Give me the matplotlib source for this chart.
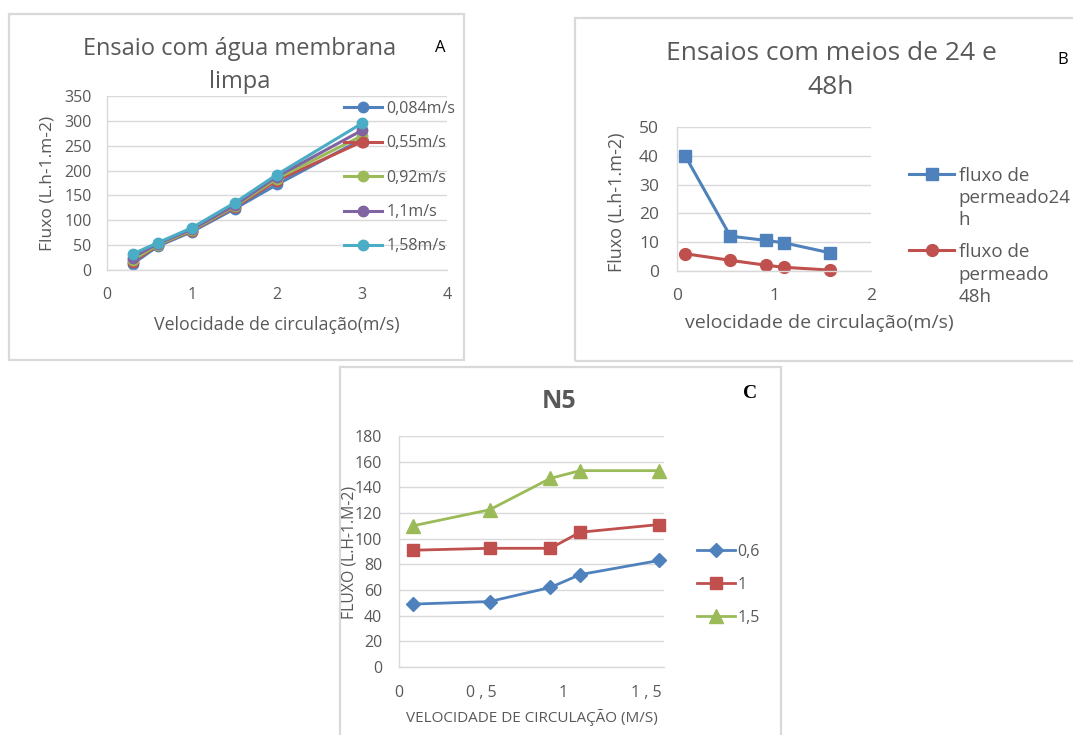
import matplotlib
matplotlib.use("Agg")
import matplotlib.pyplot as plt
from matplotlib.patches import Rectangle

W, H = 1073, 735

# ---------------- data ----------------
a_x = [0.3, 0.6, 1.0, 1.5, 2.0, 3.0]
a_labels = ["0,084m/s", "0,55m/s", "0,92m/s", "1,1m/s", "1,58m/s"]
a_084 = [12, 48, 77, 123, 172, 263]
a_055 = [16, 50, 79, 126, 180, 258]
a_092 = [20, 51, 80, 128, 184, 270]
a_110 = [25, 53, 82, 130, 188, 281]
a_158 = [32, 55, 85, 135, 192, 295]
a_xticks = [0, 1, 2, 3, 4]
a_yticks = [0, 50, 100, 150, 200, 250, 300, 350]

b_x = [0.084, 0.55, 0.92, 1.1, 1.58]
b_labels = ["fluxo de\npermeado24\nh", "fluxo de\npermeado\n48h"]
b_24 = [40, 12.1, 10.6, 9.8, 6.3]
b_48 = [6.0, 3.7, 2.0, 1.3, 0.3]
b_xticks = [0, 1, 2]
b_yticks = [0, 10, 20, 30, 40, 50]

c_x = [0.084, 0.55, 0.92, 1.1, 1.58]
c_labels = ["0,6", "1", "1,5"]
c_06 = [49, 51, 62, 72, 83]
c_10 = [91, 92.5, 92.5, 105, 111]
c_15 = [110, 122.5, 147, 153, 153]
c_xticks = [0, 0.5, 1, 1.5]
c_xticklabels = ["0", "0 , 5", "1", "1 , 5"]
c_yticks = [0, 20, 40, 60, 80, 100, 120, 140, 160, 180]

# ---------------- style ----------------
BLUE, RED, GREEN, PURPLE, AQUA = "#4F81BD", "#C0504D", "#9BBB59", "#8064A2", "#4BACC6"
TXT = "#595959"
GRID = "#D9D9D9"
FONT = ["Open Sans", "DejaVu Sans"]
plt.rcParams["font.family"] = FONT

fig = plt.figure(figsize=(W / 100, H / 100), dpi=100)


def fx(x):
    return x / W


def fy(y):
    return 1 - y / H


def add_ax(l, t, r, b):
    return fig.add_axes([l / W, 1 - b / H, (r - l) / W, (b - t) / H])


def style(ax, padx, pady, fs):
    for s in ["top", "right"]:
        ax.spines[s].set_visible(False)
    for s in ["left", "bottom"]:
        ax.spines[s].set_color(GRID)
        ax.spines[s].set_linewidth(1.0)
    ax.grid(axis="y", color=GRID, lw=1.0)
    ax.set_axisbelow(True)
    ax.tick_params(axis="both", length=0, colors=TXT, labelsize=fs)
    ax.tick_params(axis="x", pad=padx)
    ax.tick_params(axis="y", pad=pady)


def border(l, t, r, b):
    fig.patches.append(Rectangle((fx(l), fy(b)), (r - l) / W, (b - t) / H,
                                 transform=fig.transFigure, fill=False,
                                 edgecolor=GRID, lw=1.6))


# ---------------- panel A ----------------
border(9, 14, 464, 360)
axA = add_ax(107, 96, 447, 270)
for ys, c, lab in zip([a_084, a_055, a_092, a_110, a_158],
                      [BLUE, RED, GREEN, PURPLE, AQUA], a_labels):
    axA.plot(a_x, ys, color=c, lw=2.2, marker="o", ms=7.5, label=lab, clip_on=False)
axA.set_xlim(0, 4)
axA.set_ylim(0, 350)
axA.set_xticks(a_xticks)
axA.set_yticks(a_yticks)
style(axA, 12, 11, 11.5)
fig.text(fx(240), fy(49), "Ensaio com água membrana", ha="center", va="center",
         fontsize=17, color=TXT)
fig.text(fx(240), fy(82), "limpa", ha="center", va="center", fontsize=17, color=TXT)
fig.text(fx(440), fy(48), "A", ha="center", va="center", fontsize=12, color="black")
fig.text(fx(47), fy(183), "Fluxo (L.h-1.m-2)", rotation=90, ha="center", va="center",
         fontsize=12.5, color=TXT)
fig.text(fx(277), fy(325), "Velocidade de circulação(m/s)", ha="center", va="center",
         fontsize=12.8, color=TXT)
legA = axA.legend(loc="upper left", bbox_to_anchor=(fx(344), fy(101)),
                  bbox_transform=fig.transFigure, frameon=False, fontsize=11.5,
                  handlelength=2.4, handletextpad=0.25, labelspacing=1.15,
                  borderpad=0, borderaxespad=0)
for t in legA.get_texts():
    t.set_color(TXT)

# ---------------- panel B ----------------
border(575, 18, 1080, 361)
axB = add_ax(677, 127, 871, 271)
axB.plot(b_x, b_24, color=BLUE, lw=2.2, marker="s", ms=8.5, label=b_labels[0], clip_on=False)
axB.plot(b_x, b_48, color=RED, lw=2.2, marker="o", ms=8.5, label=b_labels[1], clip_on=False)
axB.set_xlim(0, 2)
axB.set_ylim(0, 50)
axB.set_xticks(b_xticks)
axB.set_yticks(b_yticks)
style(axB, 12, 13, 12.5)
fig.text(fx(831), fy(54), "Ensaios com meios de 24 e", ha="center", va="center",
         fontsize=19, color=TXT)
fig.text(fx(831), fy(87), "48h", ha="center", va="center", fontsize=19, color=TXT)
fig.text(fx(1063), fy(60), "B", ha="center", va="center", fontsize=12, color="black")
fig.text(fx(617), fy(202), "Fluxo (L.h-1.m-2)", rotation=90, ha="center", va="center",
         fontsize=13, color=TXT)
fig.text(fx(819), fy(323), "velocidade de circulação(m/s)", ha="center", va="center",
         fontsize=14, color=TXT)
legB = axB.legend(loc="upper left", bbox_to_anchor=(fx(909), fy(167)),
                  bbox_transform=fig.transFigure, frameon=False, fontsize=13.5,
                  handlelength=2.4, handletextpad=0.25, labelspacing=0.75,
                  borderpad=0, borderaxespad=0)
for t in legB.get_texts():
    t.set_color(TXT)
    t.set_linespacing(1.3)
for col in legB._legend_handle_box.get_children():
    for item in col.get_children():
        item.align = "top"

# ---------------- panel C ----------------
border(340, 367, 781, 740)
axC = add_ax(399, 436, 664, 667)
axC.plot(c_x, c_06, color=BLUE, lw=2.0, marker="D", ms=7.5, label=c_labels[0], clip_on=False)
axC.plot(c_x, c_10, color=RED, lw=2.0, marker="s", ms=9, label=c_labels[1], clip_on=False)
axC.plot(c_x, c_15, color=GREEN, lw=2.0, marker="^", ms=9.5, label=c_labels[2], clip_on=False)
axC.set_xlim(0, 1.61)
axC.set_ylim(0, 180)
axC.set_xticks(c_xticks)
axC.set_xticklabels(c_xticklabels)
axC.set_yticks(c_yticks)
style(axC, 13, 12, 11.5)
fig.text(fx(559), fy(402), "N5", ha="center", va="center", fontsize=18,
         fontweight="bold", color=TXT)
fig.text(fx(750), fy(393), "C", ha="center", va="center", fontsize=14,
         fontweight="bold", color="black", family=["Liberation Serif", "DejaVu Serif"])
fig.text(fx(349), fy(552), "FLUXO (L.H-1.M-2)", rotation=90, ha="center", va="center",
         fontsize=11.3, color=TXT)
fig.text(fx(532), fy(717), "VELOCIDADE DE CIRCULAÇÃO (M/S)", ha="center", va="center",
         fontsize=11, color=TXT)
legC = axC.legend(loc="upper left", bbox_to_anchor=(fx(697), fy(544)),
                  bbox_transform=fig.transFigure, frameon=False, fontsize=11.5,
                  handlelength=2.4, handletextpad=0.15, labelspacing=1.05,
                  borderpad=0, borderaxespad=0)
for t in legC.get_texts():
    t.set_color(TXT)

fig.savefig("out.png", dpi=100)
